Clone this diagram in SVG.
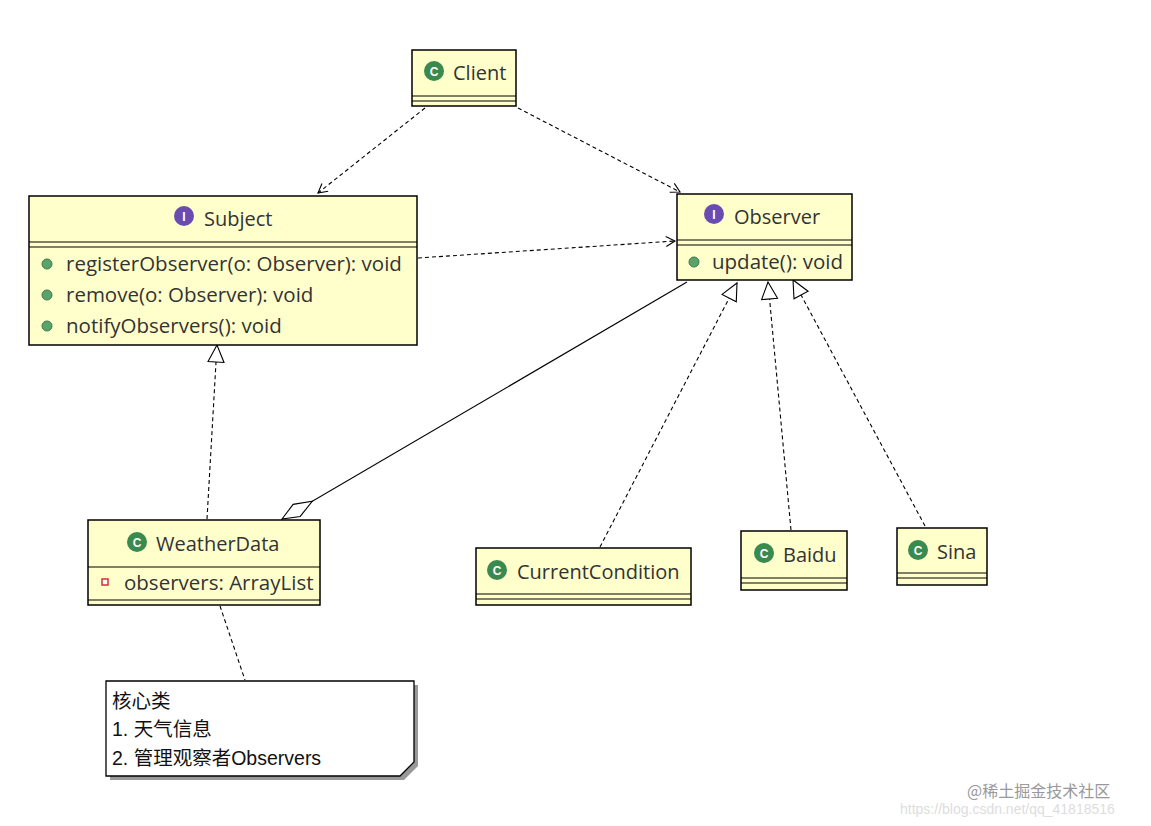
<svg xmlns="http://www.w3.org/2000/svg" width="1151" height="826" viewBox="0 0 1151 826">
<style>
.box{fill:#ffffcc;stroke:#000;stroke-width:1.5}
.ln{stroke:#000;stroke-width:1.2}
.t{font-family:"Open Sans","Liberation Sans","Noto Sans CJK SC",sans-serif;font-size:20px;fill:#333}
.m{font-family:"Open Sans","Liberation Sans","Noto Sans CJK SC",sans-serif;font-size:20.5px;fill:#333}
.n{font-family:"Liberation Sans","Noto Sans CJK SC",sans-serif;font-size:19.5px;fill:#111}
.ic{font-family:"Liberation Sans",sans-serif;font-size:12px;font-weight:bold;fill:#fff}
.d{fill:none;stroke:#000;stroke-width:1.1;stroke-dasharray:4 3}
.s{fill:none;stroke:#000;stroke-width:1.1}
</style>
<defs>
<marker id="open" markerWidth="12" markerHeight="12" refX="10" refY="6" orient="auto" markerUnits="userSpaceOnUse"><path d="M1,1 L10,6 L1,11" fill="none" stroke="#000" stroke-width="1.1"/></marker>
<marker id="tri" markerWidth="20" markerHeight="20" refX="18" refY="9" orient="auto" markerUnits="userSpaceOnUse"><path d="M1,1 L18,9 L1,17 Z" fill="#fff" stroke="#000" stroke-width="1.1"/></marker>
<marker id="dia" markerWidth="40" markerHeight="20" refX="1" refY="8" orient="auto" markerUnits="userSpaceOnUse"><path d="M1,8 L18,1 L36,8 L18,15 Z" fill="#fff" stroke="#000" stroke-width="1.1"/></marker>
<g id="cG"><circle r="10" fill="#3a8a50"/><text y="4.5" text-anchor="middle" class="ic">C</text></g>
<g id="iG"><circle r="10" fill="#6a4cb0"/><text y="4.5" text-anchor="middle" class="ic">I</text></g>
<circle id="dot" r="5" fill="#5aa36a" stroke="#3d7a4a"/>
</defs>
<rect width="1151" height="826" fill="#fff"/>
<g id="connectors">
<line class="d" x1="425" y1="108" x2="318" y2="193" marker-end="url(#open)"/>
<line class="d" x1="518" y1="108" x2="680" y2="192" marker-end="url(#open)"/>
<line class="d" x1="418" y1="258" x2="675" y2="241" marker-end="url(#open)"/>
<line class="d" x1="207" y1="519" x2="217" y2="345" marker-end="url(#tri)"/>
<line class="d" x1="600" y1="547" x2="737" y2="283" marker-end="url(#tri)"/>
<line class="d" x1="791" y1="530" x2="768" y2="282" marker-end="url(#tri)"/>
<line class="d" x1="925" y1="526" x2="793" y2="280" marker-end="url(#tri)"/>
<line class="s" x1="282" y1="519" x2="687" y2="282" marker-start="url(#dia)"/>
<line class="d" x1="220" y1="606" x2="245" y2="680"/>
</g>
<g id="Client">
<rect class="box" x="412" y="50" width="104" height="56"/>
<line class="ln" x1="412" y1="96" x2="516" y2="96"/><line class="ln" x1="412" y1="101" x2="516" y2="101"/>
<use href="#cG" x="434" y="71"/><text class="t" x="453" y="80">Client</text>
</g>
<g id="Subject">
<rect class="box" x="29" y="196" width="388" height="149"/>
<line class="ln" x1="29" y1="242" x2="417" y2="242"/><line class="ln" x1="29" y1="247" x2="417" y2="247"/>
<use href="#iG" x="184" y="216"/><text class="t" x="204" y="226">Subject</text>
<use href="#dot" x="47" y="264"/><text class="m" x="66" y="271">registerObserver(o: Observer): void</text>
<use href="#dot" x="47" y="295"/><text class="m" x="66" y="302">remove(o: Observer): void</text>
<use href="#dot" x="47" y="326"/><text class="m" x="66" y="333">notifyObservers(): void</text>
</g>
<g id="Observer">
<rect class="box" x="677" y="194" width="175" height="86"/>
<line class="ln" x1="677" y1="240" x2="852" y2="240"/><line class="ln" x1="677" y1="245" x2="852" y2="245"/>
<use href="#iG" x="714" y="214"/><text class="t" x="734" y="224">Observer</text>
<use href="#dot" x="694" y="262"/><text class="m" x="712" y="269">update(): void</text>
</g>
<g id="WeatherData">
<rect class="box" x="88" y="520" width="232" height="85"/>
<line class="ln" x1="88" y1="567" x2="320" y2="567"/><line class="ln" x1="88" y1="600" x2="320" y2="600"/>
<use href="#cG" x="137" y="542"/><text class="t" x="156" y="551">WeatherData</text>
<rect x="102" y="579" width="6" height="6" fill="#fff" stroke="#d0303a" stroke-width="1.5"/>
<text class="m" x="124" y="590">observers: ArrayList</text>
</g>
<g id="CurrentCondition">
<rect class="box" x="476" y="548" width="215" height="57"/>
<line class="ln" x1="476" y1="594" x2="691" y2="594"/><line class="ln" x1="476" y1="599" x2="691" y2="599"/>
<use href="#cG" x="497" y="570"/><text class="t" x="517" y="579">CurrentCondition</text>
</g>
<g id="Baidu">
<rect class="box" x="741" y="531" width="106" height="59"/>
<line class="ln" x1="741" y1="578" x2="847" y2="578"/><line class="ln" x1="741" y1="583" x2="847" y2="583"/>
<use href="#cG" x="764" y="553"/><text class="t" x="783" y="562">Baidu</text>
</g>
<g id="Sina">
<rect class="box" x="897" y="528" width="90" height="57"/>
<line class="ln" x1="897" y1="573" x2="987" y2="573"/><line class="ln" x1="897" y1="578" x2="987" y2="578"/>
<use href="#cG" x="918" y="550"/><text class="t" x="937" y="559">Sina</text>
</g>
<g id="Note">
<path d="M110,685 L418,685 L418,766 L404,780 L110,780 Z" fill="#999"/>
<path d="M106,681 L414,681 L414,762 L400,776 L106,776 Z" fill="#fff" stroke="#000" stroke-width="1.3"/>
<text class="n" x="112" y="708">核心类</text>
<text class="n" x="112" y="736">1. 天气信息</text>
<text class="n" x="112" y="765">2. 管理观察者Observers</text>
</g>
<text x="967" y="797" font-family="'Noto Sans CJK SC',sans-serif" font-size="16" fill="#999">@稀土掘金技术社区</text>
<text x="900" y="814" font-family="'Liberation Sans',sans-serif" font-size="14" fill="#ddd">https://blog.csdn.net/qq_41818516</text>
</svg>
